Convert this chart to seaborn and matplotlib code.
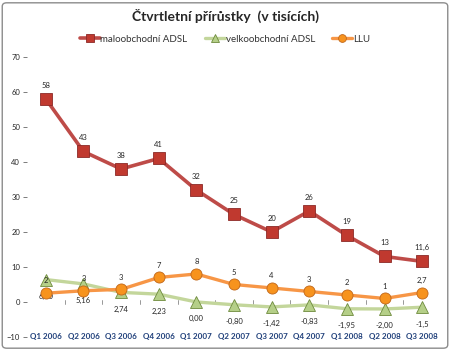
import matplotlib
matplotlib.use("Agg")
import matplotlib.pyplot as plt
import seaborn as sns
import pandas as pd
from matplotlib.patches import FancyBboxPatch

quarters = ["Q1 2006", "Q2 2006", "Q3 2006", "Q4 2006", "Q1 2007", "Q2 2007",
            "Q3 2007", "Q4 2007", "Q1 2008", "Q2 2008", "Q3 2008"]
retail = [58, 43, 38, 41, 32, 25, 20, 26, 19, 13, 11.6]
retail_labels = ["58", "43", "38", "41", "32", "25", "20", "26", "19", "13", "11,6"]
wholesale = [6.40, 5.16, 2.74, 2.23, 0.00, -0.80, -1.42, -0.83, -1.95, -2.00, -1.5]
wholesale_labels = ["6,40", "5,16", "2,74", "2,23", "0,00", "-0,80", "-1,42",
                    "-0,83", "-1,95", "-2,00", "-1,5"]
llu = [2.5, 3.2, 3.6, 7.0, 8.0, 5.0, 4.0, 3.0, 2.0, 1.0, 2.7]
llu_labels = ["2", "3", "3", "7", "8", "5", "4", "3", "2", "1", "2,7"]


def main():
    sns.set_style("white")
    plt.rcParams["font.family"] = ["Lato", "DejaVu Sans"]

    x = list(range(len(quarters)))
    fig = plt.figure(figsize=(4.5, 3.51), dpi=100)
    ax = fig.add_axes([0.06, 0.04, 0.92, 0.7976])

    sns.lineplot(x=x, y=retail, ax=ax, color="#BE4B48", lw=2.6, marker="s",
                 markersize=8.5, markerfacecolor="#C0392F", markeredgecolor="#8C2A27",
                 markeredgewidth=0.6, label="maloobchodní ADSL", zorder=3)
    sns.lineplot(x=x, y=wholesale, ax=ax, color="#C3D69B", lw=2.4, marker="^",
                 markersize=9, markerfacecolor="#B5CF88", markeredgecolor="#6E8B3D",
                 markeredgewidth=0.6, label="velkoobchodní ADSL", zorder=2)
    sns.lineplot(x=x, y=llu, ax=ax, color="#F79646", lw=2.4, marker="o",
                 markersize=8, markerfacecolor="#F7931E", markeredgecolor="#C0661A",
                 markeredgewidth=0.6, label="LLU", zorder=4)

    for i in x:
        ax.annotate(retail_labels[i], (i, retail[i]), xytext=(0, 8),
                    textcoords="offset points", ha="center", fontsize=5.5)
        ax.annotate(wholesale_labels[i], (i, wholesale[i]), xytext=(0, -14),
                    textcoords="offset points", ha="center", fontsize=5.5)
        ax.annotate(llu_labels[i], (i, llu[i]), xytext=(0, 7),
                    textcoords="offset points", ha="center", fontsize=5.5)

    ax.set_xlim(-0.5, len(quarters) - 0.5)
    ax.set_ylim(-10, 70)
    ax.set_yticks(range(-10, 71, 10))
    ax.set_xticks(x)
    ax.set_xticklabels(quarters, fontsize=5.8, color="#1F3F7A", fontweight="bold",
                       va="center")
    ax.tick_params(axis="y", labelsize=5.5, length=3, width=0.6, color="#666666",
                   left=True, pad=2)
    ax.tick_params(axis="x", length=0, pad=0)
    for s in ax.spines.values():
        s.set_visible(False)
    # small separators on the zero line between categories
    for b in x[:-1]:
        ax.plot([b + 0.5, b + 0.5], [-0.6, 0.6], color="#888888", lw=0.6, zorder=1)

    handles, labels = ax.get_legend_handles_labels()
    ax.get_legend().remove()
    fig.legend(handles, labels, loc="center", bbox_to_anchor=(0.5, 0.888), ncol=3,
               frameon=False, fontsize=7, handlelength=2.0, handletextpad=0.1,
               columnspacing=1.8, markerscale=0.7, labelcolor="#333333")

    fig.text(0.5, 0.955, "Čtvrtletní přírůstky  (v tisících)", ha="center",
             va="center", fontsize=10, fontweight="bold")

    fig.patches.append(FancyBboxPatch((0.005, 0.008), 0.99, 0.984,
                                      boxstyle="round,pad=0,rounding_size=0.01",
                                      transform=fig.transFigure, fill=False,
                                      edgecolor="#8C8C8C", lw=1.0))

    fig.savefig("out.png", dpi=100)


if __name__ == "__main__":
    main()
